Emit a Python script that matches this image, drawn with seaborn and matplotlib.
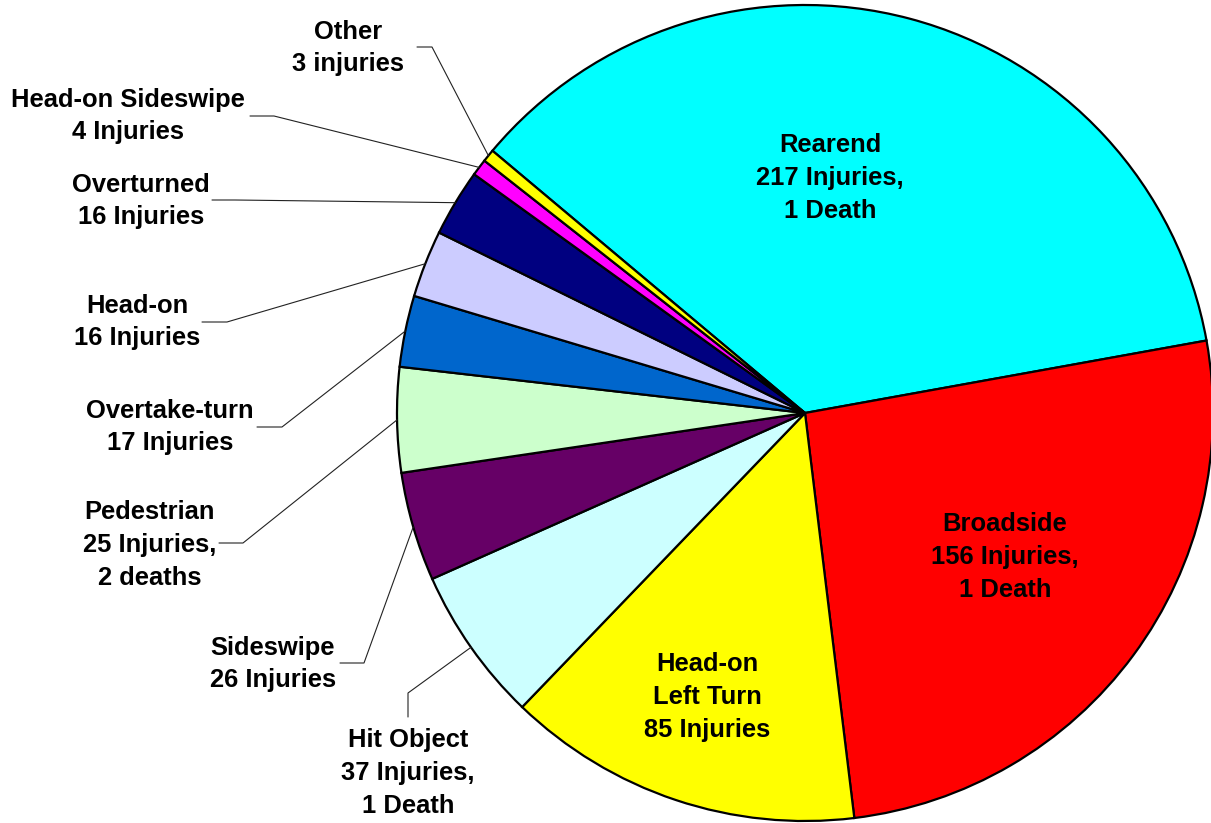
import numpy as np
import matplotlib
matplotlib.use("Agg")
import matplotlib.pyplot as plt
import seaborn as sns

# -----------------------------
# Data
# -----------------------------
categories = ["Rearend", "Broadside", "Head-on Left Turn", "Hit Object", "Sideswipe",
              "Pedestrian", "Overtake-turn", "Head-on", "Overturned",
              "Head-on Sideswipe", "Other"]
injuries = [217, 156, 85, 37, 26, 25, 17, 16, 16, 4, 3]
labels = ["Rearend\n217 Injuries,\n1 Death",
          "Broadside\n156 Injuries,\n1 Death",
          "Head-on\nLeft Turn\n85 Injuries",
          "Hit Object\n37 Injuries,\n1 Death",
          "Sideswipe\n26 Injuries",
          "Pedestrian\n25 Injuries,\n2 deaths",
          "Overtake-turn\n17 Injuries",
          "Head-on\n16 Injuries",
          "Overturned\n16 Injuries",
          "Head-on Sideswipe\n4 Injuries",
          "Other\n3 injuries"]
colors = ["#00FFFF", "#FF0000", "#FFFF00", "#CCFFFF", "#660066", "#CCFFCC",
          "#0066CC", "#CCCCFF", "#000080", "#FF00FF", "#FFFF00"]

# -----------------------------
# Layout (pixel coords, y measured from top)
# -----------------------------
W, H = 1211, 823
cx, cy, rad = 805, 413, 408

# label centre for each slice
label_pos = [(830, 178), (1005, 557), (707, 697), (408, 773), (273, 664),
             (150, 545), (170, 427), (137, 322), (141, 201), (128, 116), (348, 48)]
# leader line: (start near text, elbow) ; None for labels inside the pie
leaders = [None, None, None,
           ((408, 717), (408, 693)),
           ((340, 663), (364, 663)),
           ((219, 543), (243, 543)),
           ((257, 427), (282, 427)),
           ((202, 322), (227, 322)),
           ((212, 200), (235, 200)),
           ((250, 116), (274, 116)),
           ((417, 47), (432, 47))]


def fy(y):
    return H - y


sns.set_theme(style="white")
plt.rcParams["font.family"] = ["Liberation Sans", "DejaVu Sans"]

fig = plt.figure(figsize=(W / 100, H / 100), dpi=100)
ax = fig.add_axes([0, 0, 1, 1])

wedges, _ = ax.pie(injuries, colors=colors, startangle=140, counterclock=False,
                   center=(cx, fy(cy)), radius=rad,
                   wedgeprops=dict(edgecolor="black", linewidth=1.6))

for w, lab, pos, lead in zip(wedges, labels, label_pos, leaders):
    ax.text(pos[0], fy(pos[1]), lab, ha="center", va="center", fontsize=18.4,
            fontweight="bold", color="black", linespacing=1.45)
    if lead is None:
        continue
    mid = np.deg2rad((w.theta1 + w.theta2) / 2)
    ex = cx + rad * np.cos(mid)
    ey = fy(cy) + rad * np.sin(mid)
    xs = [lead[0][0], lead[1][0], ex]
    ys = [fy(lead[0][1]), fy(lead[1][1]), ey]
    ax.plot(xs, ys, color="#222222", linewidth=0.8)

ax.set_xlim(0, W)
ax.set_ylim(0, H)
ax.set_aspect("equal")
ax.axis("off")

fig.savefig("out.png", dpi=100, facecolor="white")
